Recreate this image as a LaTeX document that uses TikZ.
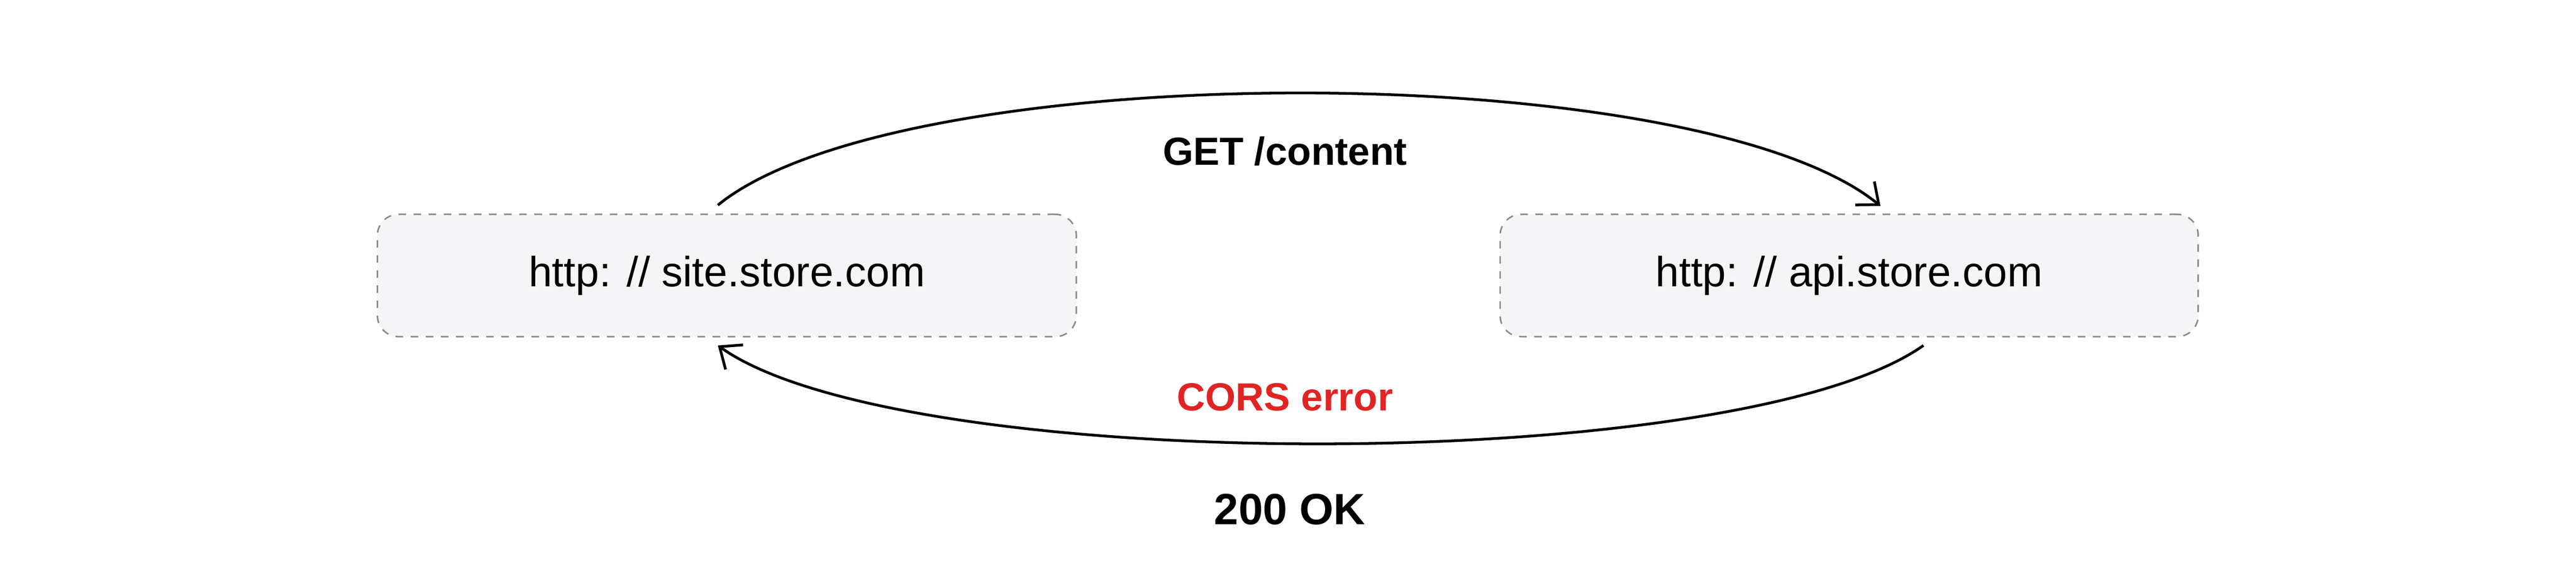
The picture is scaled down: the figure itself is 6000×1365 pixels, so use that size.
\documentclass[tikz,border=0pt]{standalone}
\usepackage{fontspec}
\setmainfont{Liberation Sans}
\usetikzlibrary{arrows.meta}
\definecolor{boxfill}{HTML}{F3F5F6}
\definecolor{boxline}{HTML}{8A8A8A}
\definecolor{errred}{HTML}{E02424}
\begin{document}
\begin{tikzpicture}[x=0.01cm,y=-0.01cm,
  hostbox/.style={draw=boxline,line width=1pt,dash pattern=on 5pt off 5pt,fill=boxfill,rounded corners=14pt,inner sep=0pt,font=\fontsize{28}{32}\selectfont},
  conn/.style={line width=1.8pt,-{Straight Barb[length=12pt,width=20pt,line width=1.8pt]}},
  lbl/.style={font=\fontsize{26}{30}\selectfont\bfseries}]
\useasboundingbox (0,0) rectangle (6000,1365);
\node[hostbox,minimum width=16.27cm,minimum height=2.85cm] (site) at (1693,642) {http: // site.store.com};
\node[hostbox,minimum width=16.25cm,minimum height=2.85cm] (api) at (4307,642) {http: // api.store.com};
\coordinate (s1) at (1672,478);
\coordinate (a1) at (4380,480);
\coordinate (a2) at (4480,805);
\coordinate (s2) at (1672,805);
\draw[conn] (s1) .. controls (2100,130) and (3950,130) .. (a1);
\draw[conn] (a2) .. controls (4050,1110) and (2100,1110) .. (s2);
\node[lbl] (get) at (2993,352) {GET /content};
\node[lbl,text=errred] (cors) at (2993,926) {CORS error};
\node[lbl,font=\fontsize{29}{34}\selectfont\bfseries] (ok) at (3004,1187) {200 OK};
\end{tikzpicture}
\end{document}
